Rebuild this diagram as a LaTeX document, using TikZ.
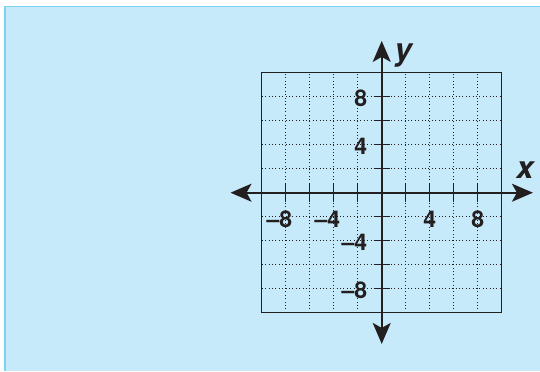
\documentclass[tikz,border=0pt]{standalone}
\usepackage{fontspec}
\setsansfont{TeX Gyre Heros}
\usepackage{tikz}
\usetikzlibrary{arrows.meta}
\definecolor{panelblue}{HTML}{C6EAF9}
\definecolor{edgeblue}{HTML}{7AD3F1}
\definecolor{ink}{HTML}{231F20}

\begin{document}
\begin{tikzpicture}[x=12pt,y=12pt,>={Stealth[length=21pt,width=18pt,inset=5pt]},
  lbl/.style={text=ink,inner sep=0pt,font=\sffamily\bfseries\fontsize{23}{26}\selectfont},
  var/.style={text=ink,inner sep=0pt,font=\sffamily\bfseries\itshape\fontsize{31}{34}\selectfont},
  gridline/.style={ink,line width=1pt,dash pattern=on 1pt off 2.4pt}]
\useasboundingbox (-31.81,-14.86) rectangle (13.19,16.06);
\path[fill=panelblue] (-31.4,-14.86) rectangle (13.19,15.5);
\draw[edgeblue,line width=1.5pt] (-31.4,-14.86) -- (-31.4,15.5) -- (13.19,15.5);
\foreach \g in {-8,-6,...,8} {
  \draw[gridline] (\g,-10) -- (\g,10);
  \draw[gridline] (-10,\g) -- (10,\g);
}
\draw[ink,line width=1.3pt] (-10,-10) rectangle (10,10);
\foreach \g in {-8,-6,-4,-2,2,4,6,8} {
  \draw[ink,line width=1.3pt] (\g,-0.75) -- (\g,0.75);
  \draw[ink,line width=1.3pt] (-0.65,\g) -- (0.65,\g);
}
\coordinate (xmin) at (-12.6,0);
\coordinate (xmax) at (12.6,0);
\coordinate (ymin) at (0,-12.6);
\coordinate (ymax) at (0,12.65);
\draw[ink,line width=1.6pt,<->] (xmin) -- (xmax);
\draw[ink,line width=1.6pt,<->] (ymin) -- (ymax);
% axis numbers
\node[lbl] (xm8) at (-8,-2.2) {\llap{--}8};
\node[lbl] (xm4) at (-4,-2.2) {\llap{--}4};
\node[lbl] (xp4) at (4,-2.2) {4};
\node[lbl] (xp8) at (8,-2.2) {8};
\node[lbl,anchor=east] (yp8) at (-1.2,7.9) {8};
\node[lbl,anchor=east] (yp4) at (-1.2,3.9) {4};
\node[lbl,anchor=east] (ym4) at (-1.2,-4.1) {--4};
\node[lbl,anchor=east] (ym8) at (-1.2,-8.1) {--8};
\node[var] (xlab) at (11.94,1.89) {x};
\node[var] (ylab) at (1.8,11.42) {y};
\end{tikzpicture}
\end{document}
